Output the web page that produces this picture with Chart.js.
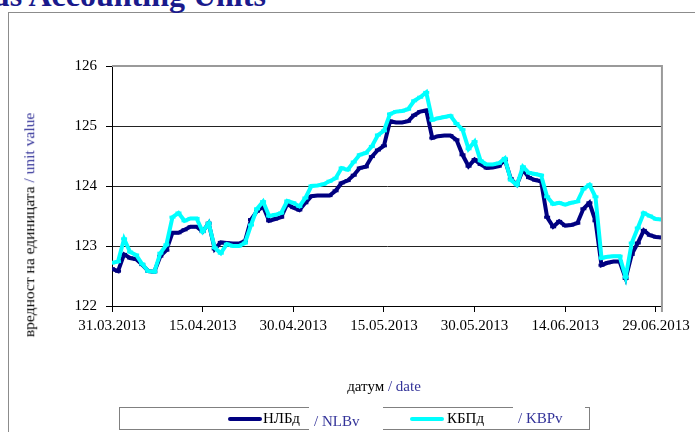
<!DOCTYPE html>
<html>
<head>
<meta charset="utf-8">
<script src="https://cdn.jsdelivr.net/npm/chart.js@4"></script>
<style>
  html, body { margin: 0; padding: 0; background: #fff; }
  #wrap { position: relative; width: 695px; height: 432px; overflow: hidden; font-family: "Liberation Serif", serif; }
  #frame { position: absolute; left: 8px; top: 12px; width: 700px; height: 440px; border: 1px solid #8c8c8c; box-sizing: border-box; }
  #chartBox { position: absolute; left: 0; top: 0; width: 695px; height: 432px; }
  .t { position: absolute; white-space: nowrap; line-height: 1; }
  .blue { color: #333399; }
</style>
</head>
<body>
<div id="wrap">
  <div id="frame"></div>
  <div class="t" style="left:-8px; top:-21px; font-size:32px; font-weight:bold; color:#1a1a8c;">us Accounting Units</div>
  <div id="chartBox"><canvas id="c" width="695" height="432"></canvas></div>
  <div class="t" style="left:29px; top:225px; font-size:15.5px; transform: translate(-50%,-50%) rotate(-90deg);">вредност на единицата <span class="blue">/ unit value</span></div>
  <div class="t" style="left:384px; top:386px; font-size:15px; transform: translate(-50%,-50%);">датум <span class="blue">/ date</span></div>
  <div style="position:absolute; left:119px; top:407px; width:471px; height:23px; border:1px solid #808080; box-sizing:border-box;"></div>
  <div style="position:absolute; left:309px; top:404px; width:74px; height:30px; background:#fff;"></div>
  <div style="position:absolute; left:513px; top:404px; width:72px; height:5px; background:#fff;"></div>
  <div style="position:absolute; left:228px; top:417px; width:34px; height:4px; border-radius:2px; background:#000080;"></div>
  <div class="t" style="left:263px; top:418px; font-size:15px; transform: translateY(-50%);">НЛБд</div>
  <div class="t blue" style="left:314px; top:421px; font-size:15px; transform: translateY(-50%);">/ NLBv</div>
  <div style="position:absolute; left:410px; top:417px; width:34px; height:4px; border-radius:2px; background:#00ffff;"></div>
  <div class="t" style="left:447px; top:418px; font-size:15px; transform: translateY(-50%);">КБПд</div>
  <div class="t blue" style="left:518px; top:418px; font-size:15px; transform: translateY(-50%);">/ KBPv</div>
</div>
<script>
// Tick labels on the date axis (day index from 31.03.2013)
const tickDays = [0, 15, 30, 45, 60, 75, 90];
const tickLabels = ['31.03.2013', '15.04.2013', '30.04.2013', '15.05.2013', '30.05.2013', '14.06.2013', '29.06.2013'];
const yTicks = [122, 123, 124, 125, 126];

// Daily unit values, 31.03.2013 .. 30.06.2013
const nlbValues = [
  122.62, 122.58, 122.86, 122.80, 122.78, 122.69, 122.58, 122.57, 122.83, 122.93,
  123.22, 123.22, 123.27, 123.32, 123.32, 123.24, 123.38, 122.95, 123.06, 123.05,
  123.04, 123.04, 123.08, 123.44, 123.58, 123.66, 123.42, 123.45, 123.48, 123.70,
  123.64, 123.60, 123.72, 123.83, 123.84, 123.84, 123.84, 123.92, 124.05, 124.09,
  124.18, 124.30, 124.32, 124.49, 124.60, 124.67, 125.08, 125.06, 125.06, 125.08,
  125.18, 125.24, 125.26, 124.80, 124.83, 124.84, 124.84, 124.77, 124.52, 124.33,
  124.44, 124.36, 124.30, 124.31, 124.33, 124.44, 124.12, 124.02, 124.27, 124.14,
  124.10, 124.08, 123.48, 123.32, 123.41, 123.34, 123.35, 123.38, 123.62, 123.72,
  123.42, 122.68, 122.72, 122.74, 122.74, 122.46, 122.86, 123.05, 123.26, 123.18,
  123.15, 123.14
];
const kbpValues = [
  122.72, 122.74, 123.12, 122.90, 122.85, 122.70, 122.58, 122.57, 122.88, 123.02,
  123.48, 123.55, 123.42, 123.46, 123.46, 123.24, 123.38, 122.97, 122.88, 123.03,
  123.00, 123.00, 123.05, 123.35, 123.62, 123.74, 123.50, 123.52, 123.55, 123.75,
  123.72, 123.66, 123.80, 124.00, 124.01, 124.03, 124.08, 124.13, 124.30, 124.27,
  124.40, 124.52, 124.55, 124.66, 124.85, 124.92, 125.20, 125.24, 125.25, 125.28,
  125.42, 125.48, 125.56, 125.10, 125.13, 125.15, 125.17, 125.04, 124.94, 124.62,
  124.74, 124.42, 124.36, 124.36, 124.38, 124.46, 124.10, 124.02, 124.32, 124.22,
  124.20, 124.18, 123.82, 123.70, 123.72, 123.69, 123.72, 123.74, 123.95, 124.02,
  123.82, 122.80, 122.82, 122.83, 122.83, 122.48, 123.05, 123.30, 123.55, 123.50,
  123.45, 123.44
];

const toPoints = arr => arr.map((v, i) => ({ x: i, y: v }));

const frameBorder = {
  id: 'frameBorder',
  afterDatasetsDraw(chart) {
    const { ctx, chartArea: a } = chart;
    ctx.save();
    ctx.strokeStyle = '#9a9a9a';
    ctx.lineWidth = 2;
    ctx.beginPath();
    ctx.moveTo(a.left, a.top);
    ctx.lineTo(a.right, a.top);
    ctx.lineTo(a.right, a.bottom + 6);
    ctx.stroke();
    ctx.restore();
  }
};

new Chart(document.getElementById('c'), {
  type: 'line',
  data: {
    datasets: [
      {
        label: 'КБПд / KBPv',
        data: toPoints(kbpValues),
        borderColor: '#00ffff',
        backgroundColor: '#00ffff',
        borderWidth: 4,
        pointStyle: 'line',
        pointRadius: 3,
        pointBorderWidth: 3,
        pointBorderColor: '#00ffff',
        tension: 0,
        order: 1
      },
      {
        label: 'НЛБд / NLBv',
        data: toPoints(nlbValues),
        borderColor: '#000080',
        backgroundColor: '#000080',
        borderWidth: 4,
        pointStyle: 'line',
        pointRadius: 3,
        pointBorderWidth: 3,
        pointBorderColor: '#000080',
        tension: 0,
        order: 2
      }
    ]
  },
  options: {
    responsive: false,
    animation: false,
    events: [],
    layout: { padding: { left: 0, top: 66, right: 33, bottom: 0 } },
    plugins: { legend: { display: false }, tooltip: { enabled: false } },
    scales: {
      x: {
        type: 'linear',
        min: 0,
        max: 91,
        afterFit(s) { s.height = 126; },
        afterBuildTicks(s) { s.ticks = tickDays.map(v => ({ value: v })); },
        grid: { drawOnChartArea: false, tickLength: 6, color: '#000', lineWidth: 1 },
        border: { color: '#000', width: 1 },
        ticks: {
          autoSkip: false,
          maxRotation: 0,
          padding: 5,
          color: '#000',
          font: { family: 'Liberation Serif', size: 15 },
          callback: (v) => { const i = tickDays.indexOf(v); return i >= 0 ? tickLabels[i] : ''; }
        }
      },
      y: {
        min: 122,
        max: 126,
        afterFit(s) { s.width = 112; },
        afterBuildTicks(s) { s.ticks = yTicks.map(v => ({ value: v })); },
        grid: {
          color: (c) => (c.tick && c.tick.value === 126 ? '#9a9a9a' : '#222'),
          tickColor: '#000',
          tickLength: 6,
          lineWidth: 1
        },
        border: { color: '#000', width: 1 },
        ticks: {
          padding: 9,
          color: '#000',
          font: { family: 'Liberation Serif', size: 15 }
        }
      }
    }
  },
  plugins: [frameBorder]
});
</script>
</body>
</html>
